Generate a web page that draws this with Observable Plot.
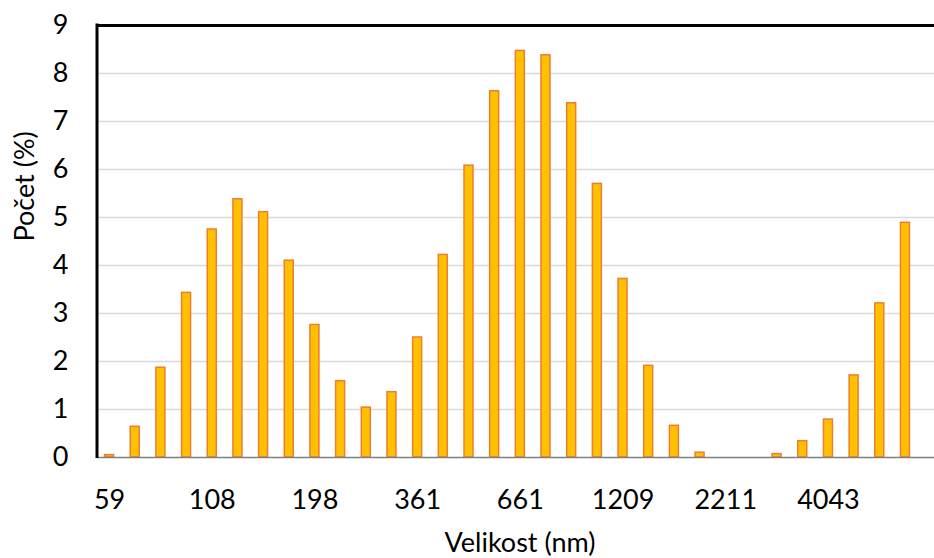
<!DOCTYPE html>
<html>
<head>
<meta charset="utf-8">
<script src="https://cdn.jsdelivr.net/npm/d3@7"></script>
<script src="https://cdn.jsdelivr.net/npm/@observablehq/plot@0.6"></script>
<style>
  html, body { margin: 0; padding: 0; background: #fff; }
</style>
</head>
<body>
<div id="chart"></div>
<script>
// Size classes (nm) – every fourth shown as a tick label
const sizes = ["59","68.6","79.8","92.8","108","125.5","146","169.8","198","229.6","267","310.5","361","420","488","568","661","768","894","1039","1209","1406","1635","1901","2211","2571","2990","3477","4043","4702","5468","6359"];
// Count (%) per size class
const counts = [0.05,0.64,1.87,3.43,4.75,5.38,5.11,4.10,2.76,1.59,1.04,1.36,2.50,4.22,6.08,7.63,8.47,8.38,7.38,5.70,3.72,1.91,0.66,0.10,0,0,0.07,0.34,0.79,1.71,3.21,4.89];
const xTickLabels = ["59","108","198","361","661","1209","2211","4043"];
const yTicks = [0,1,2,3,4,5,6,7,8,9];
const xTitle = "Velikost (nm)";
const yTitle = "Počet (%)";

const data = sizes.map((s, i) => ({size: s, count: counts[i]}));
const font = "Lato, 'Open Sans', sans-serif";

// left plot-area border drawn from the frame dimensions
const leftBorder = (index, scales, values, dims) => {
  const g = d3.create("svg:g");
  g.append("line")
    .attr("x1", dims.marginLeft).attr("x2", dims.marginLeft)
    .attr("y1", dims.marginTop - 1.5).attr("y2", dims.height - dims.marginBottom + 1)
    .attr("stroke", "#000").attr("stroke-width", 3);
  return g.node();
};

const chart = Plot.plot({
  width: 934,
  height: 558,
  marginTop: 25,
  marginBottom: 101,
  marginLeft: 97,
  marginRight: 0,
  style: {fontFamily: font, fontSize: "27px", color: "#000", background: "#fff"},
  x: {type: "band", domain: sizes, range: [96.2, 917.8], paddingInner: 0.65, paddingOuter: 0.325, align: 0.5, round: false},
  y: {domain: [0, 9], range: [457, 25]},
  marks: [
    Plot.ruleY(yTicks.filter(d => d > 0 && d < 9), {stroke: "#d9d9d9", strokeWidth: 1.5}),
    Plot.barY(data, {x: "size", y: "count", fill: "#FFC000", stroke: "#ED7D31", strokeWidth: 1.5}),
    Plot.ruleY([0], {stroke: "#7f7f7f", strokeWidth: 1.5}),
    Plot.ruleY([9], {stroke: "#000", strokeWidth: 3}),
    leftBorder,
    Plot.axisY({ticks: yTicks, tickSize: 0, tickPadding: 29, label: null, fontSize: 27}),
    Plot.axisX({ticks: xTickLabels, tickSize: 0, tickPadding: 32, label: null, fontSize: 27}),
    Plot.text([xTitle], {text: d => d, frameAnchor: "bottom", dy: 86, dx: 4, fontSize: 27, lineAnchor: "middle"}),
    Plot.text([yTitle], {text: d => d, frameAnchor: "left", dx: -72, rotate: -90, fontSize: 27, lineAnchor: "middle"})
  ]
});
document.getElementById("chart").append(chart);
</script>
</body>
</html>
